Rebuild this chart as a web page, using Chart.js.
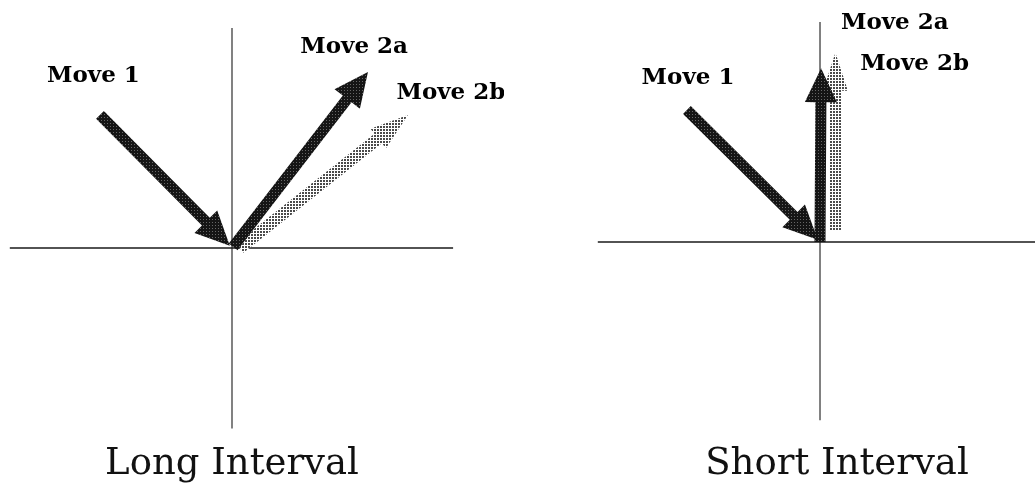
<!DOCTYPE html>
<html>
<head>
<meta charset="utf-8">
<script src="https://cdn.jsdelivr.net/npm/chart.js@4"></script>
<style>
  html, body { margin: 0; padding: 0; background: #fff; overflow: hidden; }
  body { width: 1035px; height: 493px; position: relative; }
  canvas { position: absolute; top: 0; }
  #longChart { left: -40px; }
  #shortChart { left: 590px; }
</style>
</head>
<body>
<canvas id="longChart" width="544" height="493"></canvas>
<canvas id="shortChart" width="494" height="493"></canvas>
<script>
// Vectors in a unit where each axis arm is 10 long; origin = where the axes cross
const panelTitles = ['Long Interval', 'Short Interval'];
const moveNames = ['Move 1', 'Move 2a', 'Move 2b'];
const moveShade = ['dark', 'dark', 'gray'];

const longFrom = [[-6.0, 6.05], [0.05, 0.05], [0.35, 0.0]];
const longTo = [[-0.1, 0.1], [6.18, 8.0], [8.0, 6.05]];
const longLabelAt = [[-6.3, 7.8], [5.55, 9.15], [9.95, 7.05]];

const shortFrom = [[-6.05, 6.0], [0.0, 0.0], [0.7, 0.55]];
const shortTo = [[-0.1, 0.1], [0.05, 7.9], [0.7, 8.6]];
const shortLabelAt = [[-6.0, 7.45], [3.4, 9.95], [4.3, 8.1]];

const longAxisX = [-10.1, 10.05];
const longAxisY = [-8.2, 10.0];
const shortAxisX = [-10.1, 10.5];
const shortAxisY = [-8.1, 10.0];

function makePattern(bg, dot, size, dotSize) {
    const c = document.createElement('canvas');
    c.width = c.height = size;
    const g = c.getContext('2d');
    g.fillStyle = bg;
    g.fillRect(0, 0, size, size);
    g.fillStyle = dot;
    g.fillRect(0, 0, dotSize, dotSize);
    return g.createPattern(c, 'repeat');
}

const arrowStyles = {
    dark: { fill: makePattern('#151515', '#666666', 3, 1), shaft: 5.5, headLen: 34, headHalf: 16 },
    gray: { fill: makePattern('#ffffff', '#4a4a4a', 3, 2), shaft: 6, headLen: 38, headHalf: 12.5 }
};

// draws each arrow dataset from its two points, placed by the chart's scales
const arrowPlugin = {
    id: 'arrows',
    afterDatasetsDraw(chart) {
        const ctx = chart.ctx;
        // gray ones first so the dark heads sit on top
        const order = chart.data.datasets
            .map((ds, i) => ({ ds, i }))
            .filter(o => o.ds.arrowShade)
            .sort((a, b) => (a.ds.arrowShade === 'gray' ? -1 : 1) - (b.ds.arrowShade === 'gray' ? -1 : 1));
        order.forEach(({ ds, i }) => {
            const pts = chart.getDatasetMeta(i).data;
            const s = arrowStyles[ds.arrowShade];
            const x0 = pts[0].x, y0 = pts[0].y, x1 = pts[1].x, y1 = pts[1].y;
            const len = Math.hypot(x1 - x0, y1 - y0);
            const ux = (x1 - x0) / len, uy = (y1 - y0) / len;
            const nx = -uy, ny = ux;
            const bx = x1 - ux * s.headLen, by = y1 - uy * s.headLen;
            ctx.save();
            ctx.beginPath();
            ctx.moveTo(x0 + nx * s.shaft, y0 + ny * s.shaft);
            ctx.lineTo(bx + nx * s.shaft, by + ny * s.shaft);
            ctx.lineTo(bx + nx * s.headHalf, by + ny * s.headHalf);
            ctx.lineTo(x1, y1);
            ctx.lineTo(bx - nx * s.headHalf, by - ny * s.headHalf);
            ctx.lineTo(bx - nx * s.shaft, by - ny * s.shaft);
            ctx.lineTo(x0 - nx * s.shaft, y0 - ny * s.shaft);
            ctx.closePath();
            ctx.fillStyle = s.fill;
            ctx.fill();
            ctx.restore();
        });
    }
};

const labelPlugin = {
    id: 'moveLabels',
    afterDatasetsDraw(chart, args, opts) {
        const ctx = chart.ctx;
        const xs = chart.scales.x, ys = chart.scales.y;
        ctx.save();
        ctx.font = 'bold 23px "DejaVu Serif", serif';
        ctx.fillStyle = '#000';
        ctx.textAlign = 'center';
        ctx.textBaseline = 'middle';
        opts.names.forEach((name, k) => {
            const p = opts.at[k];
            ctx.fillText(name, xs.getPixelForValue(p[0]), ys.getPixelForValue(p[1]));
        });
        ctx.restore();
    }
};

function buildChart(canvasId, title, from, to, labelAt, axisX, axisY, xRange, yRange) {
    const axisLine = {
        borderColor: '#1a1a1a',
        borderWidth: 1.3,
        showLine: true,
        pointRadius: 0,
        fill: false
    };
    const datasets = [
        { ...axisLine, data: [{ x: axisX[0], y: 0 }, { x: axisX[1], y: 0 }] },
        { ...axisLine, borderWidth: 1.1, data: [{ x: 0, y: axisY[0] }, { x: 0, y: axisY[1] }] }
    ];
    moveNames.forEach((name, k) => {
        datasets.push({
            label: name,
            arrowShade: moveShade[k],
            showLine: false,
            pointRadius: 0,
            data: [{ x: from[k][0], y: from[k][1] }, { x: to[k][0], y: to[k][1] }]
        });
    });

    return new Chart(document.getElementById(canvasId), {
        type: 'scatter',
        data: { datasets },
        plugins: [arrowPlugin, labelPlugin],
        options: {
            responsive: false,
            animation: false,
            events: [],
            layout: { padding: 0 },
            scales: {
                x: { type: 'linear', min: xRange[0], max: xRange[1], display: false },
                y: { type: 'linear', min: yRange[0], max: yRange[1], display: false }
            },
            plugins: {
                legend: { display: false },
                tooltip: { enabled: false },
                title: {
                    display: true,
                    text: title,
                    position: 'bottom',
                    color: '#111',
                    font: { family: '"DejaVu Serif", serif', size: 37, weight: 'normal', lineHeight: 1.2 },
                    padding: { top: 0, bottom: 6 }
                },
                moveLabels: { names: moveNames, at: labelAt }
            }
        }
    });
}

buildChart('longChart', panelTitles[0], longFrom, longTo, longLabelAt,
    longAxisX, longAxisY, [-12.364, 12.364], [-8.845, 11.273]);
buildChart('shortChart', panelTitles[1], shortFrom, shortTo, shortLabelAt,
    shortAxisX, shortAxisY, [-10.455, 12.0], [-9.118, 11.0]);
</script>
</body>
</html>
